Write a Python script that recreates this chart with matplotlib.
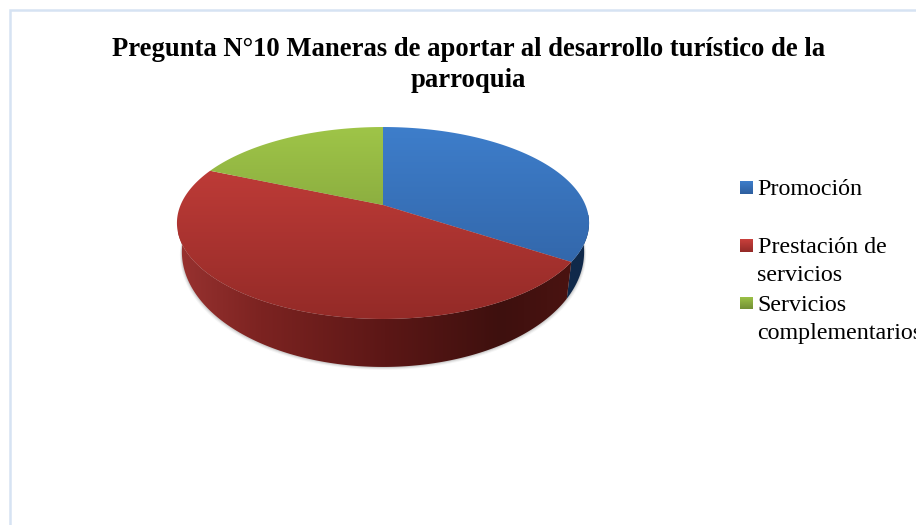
import numpy as np
import matplotlib
matplotlib.use("Agg")
import matplotlib.pyplot as plt
from matplotlib.colors import LinearSegmentedColormap
from matplotlib.patches import Polygon, Rectangle

title_lines = ["Pregunta N°10 Maneras de aportar al desarrollo turístico de la", "parroquia"]
categories = ["Promoción", "Prestación de\nservicios", "Servicios\ncomplementarios"]
values = [34.3, 47.2, 18.5]

top_colors = [("#3e7ecb", "#2e5e9e"), ("#ca403c", "#932a27"), ("#9fc548", "#728f35")]
side_colors = [
    [(0, "#10294a"), (1, "#10294a")],
    [(0, "#983230"), (0.2, "#7c2321"), (0.5, "#5c1716"), (0.78, "#3e100e"), (0.95, "#4a1311"), (1, "#4a1311")],
    [(0, "#4e6322"), (1, "#4e6322")],
]

FRAME = "#d6e3f3"
W, H = 916, 525
cx, cy = 383.0, 205.0
A, B, K = 202.4, 92.6, 0.1875
RIM_CY, RIM_B = 223.0, 96.0
FOOT_CY, FOOT_B, FOOT_SX = 252.0, 115.0, 0.976

fig = plt.figure(figsize=(W / 100, H / 100), dpi=100, facecolor="white")
ax = fig.add_axes([0, 0, 1, 1])
ax.axis("off")


def project(theta):
    """Disc angle (radians) to canvas position, with perspective."""
    u, v = np.cos(theta), np.sin(theta)
    w = 1 + K * v
    return cx + A * u / w, cy - B * v / w


def foot(x, y):
    """Rim position to the matching position on the lower edge of the wall."""
    return cx + (x - cx) * FOOT_SX, FOOT_CY + (y - RIM_CY) * FOOT_B / RIM_B


def gradient(colors, poly, vertical=True, extent=None):
    cmap = LinearSegmentedColormap.from_list("g", colors)
    ramp = np.linspace(0, 1, 256)
    data = ramp[:, None] if vertical else ramp[None, :]
    patch = Polygon(poly, closed=True, transform=ax.transData, fc="none", ec="none")
    ax.add_patch(patch)
    im = ax.imshow(data, cmap=cmap, extent=extent, origin="upper", aspect="auto",
                   interpolation="bilinear")
    im.set_clip_path(patch)
    im.set_zorder(3)
    return im


# frame
ax.add_patch(Rectangle((10, 10), W, H, fc="white", ec=FRAME, lw=1.8, zorder=0))

# slice angles, clockwise from twelve o'clock
fractions = np.array(values, dtype=float) / sum(values)
edges = np.pi / 2 - 2 * np.pi * np.concatenate([[0], np.cumsum(fractions)])
all_t = np.linspace(0, 2 * np.pi, 400)

# soft shadow below the wall
bx, by = foot(*project(all_t))
for grow, alpha in [(3.0, 0.06), (2.0, 0.10), (1.0, 0.14)]:
    ax.fill(cx + (bx - cx) * (1 + grow / 300), by + grow, color="#555555",
            alpha=alpha, lw=0, zorder=1)

# side walls
for i in range(len(values)):
    t = np.linspace(edges[i], edges[i + 1], 200)
    x0, y0 = project(t)
    x1, y1 = foot(x0, y0)
    poly = np.column_stack([np.r_[x0, x1[::-1]], np.r_[y0, y1[::-1]]])
    gradient(side_colors[i], poly, vertical=False, extent=(178, 592, 375, 215)).set_zorder(3 + i * 0.01)

# top face
for i in range(len(values)):
    t = np.linspace(edges[i], edges[i + 1], 200)
    x0, y0 = project(t)
    poly = np.column_stack([np.r_[cx, x0], np.r_[cy, y0]])
    gradient(top_colors[i], poly, extent=(170, 595, 322, 125)).set_zorder(4 + i * 0.01)

# legend
legend_boxes = [(740, 181), (740, 239), (740, 296.5)]
legend_base = [195, 253, 311]
for i, label in enumerate(categories):
    bx0, by0 = legend_boxes[i]
    sq = [(bx0, by0), (bx0 + 13, by0), (bx0 + 13, by0 + 13), (bx0, by0 + 13)]
    gradient(top_colors[i], sq, extent=(bx0, bx0 + 13, by0 + 13, by0))
    for j, line in enumerate(label.split("\n")):
        ax.text(757.5, legend_base[i] + j * 28, line, family="Liberation Serif",
                fontsize=17.3, color="black", va="baseline", ha="left", zorder=6)

# title
for line, base in zip(title_lines, [56, 87]):
    ax.text(468.5, base, line, family="Liberation Serif", weight="bold", fontsize=19.15,
            color="black", ha="center", va="baseline", zorder=6)

ax.set_xlim(0, W)
ax.set_ylim(H, 0)
fig.savefig("out.png", dpi=100, facecolor="white")
